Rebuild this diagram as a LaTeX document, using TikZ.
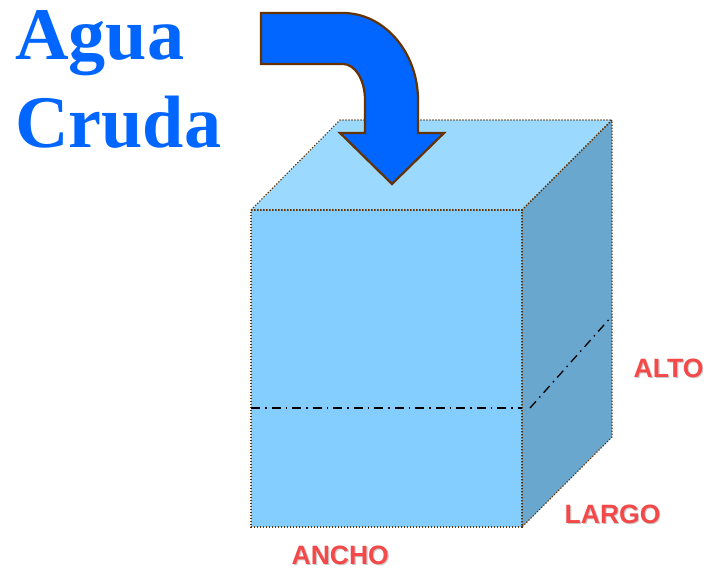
\documentclass[tikz,border=0pt]{standalone}
\usepackage{fontspec}
\setmainfont{Liberation Serif}
\setsansfont{Liberation Sans}
\definecolor{frontc}{HTML}{84CEFF}
\definecolor{topc}{HTML}{9CD9FF}
\definecolor{sidec}{HTML}{69A7CF}
\definecolor{arrowc}{HTML}{0066FF}
\definecolor{edgec}{HTML}{663300}
\definecolor{labelc}{HTML}{F54848}
\definecolor{shadowc}{HTML}{C8C8C8}
\newcommand{\shadowed}[1]{\rlap{\raisebox{-1.2pt}{\hspace{1.2pt}\textcolor{shadowc}{#1}}}\textcolor{labelc}{#1}}
\tikzset{
  x=1pt,y=-1pt,
  face/.style={draw=edgec,line width=1.2pt,dash pattern=on 1.2pt off 1.8pt},
  bigtext/.style={inner sep=0pt,anchor=base west,text=arrowc,font=\bfseries\fontsize{74.2}{75}\selectfont},
  dimlabel/.style={inner sep=0pt,anchor=base west,font=\sffamily\bfseries\fontsize{26.5}{27}\selectfont},
  waterline/.style={black,line width=1.3pt,dash pattern=on 9pt off 5pt on 1.5pt off 5pt}
}
\begin{document}
\begin{tikzpicture}
\useasboundingbox (0,0) rectangle (709,569);
\coordinate (fa) at (251,210);
\coordinate (fb) at (522,210);
\coordinate (fc) at (522,527);
\coordinate (fd) at (251,527);
\coordinate (ba) at (340,120);
\coordinate (bb) at (612,120);
\coordinate (bc) at (612,437);
\coordinate (wa) at (251,408);
\coordinate (wb) at (522,408);
\coordinate (wc) at (530,408);
\coordinate (wd) at (612,316);
\fill[frontc] (fa) -- (fb) -- (fc) -- (fd) -- cycle;
\fill[topc] (fa) -- (ba) -- (bb) -- (fb) -- cycle;
\fill[sidec] (fb) -- (bb) -- (bc) -- (fc) -- cycle;
\draw[face] (fa) -- (ba) -- (bb) -- (fb) -- cycle;
\draw[face] (fb) -- (bb) -- (bc) -- (fc) -- cycle;
\draw[face] (fa) -- (fb) -- (fc) -- (fd) -- cycle;
\draw[waterline] (wa) -- (wb);
\draw[waterline] (wc) -- (wd);
\draw[fill=arrowc,draw=edgec,line width=2.2pt,miter limit=10]
  (261,13) -- (343,13)
  .. controls (384,13) and (418,52) .. (418,100)
  -- (418,133) -- (444,133) -- (392,184) -- (340,133) -- (365,133) -- (365,100)
  .. controls (365,80) and (355,64) .. (343,64)
  -- (261,64) -- cycle;
\node[bigtext] (agua) at (15,60) {Agua};
\node[bigtext] (cruda) at (15,148) {Cruda};
\node[dimlabel] (alto) at (633.5,377) {\shadowed{ALTO}};
\node[dimlabel] (largo) at (564.5,523) {\shadowed{LARGO}};
\node[dimlabel] (ancho) at (291.5,564) {\shadowed{ANCHO}};
\end{tikzpicture}
\end{document}
